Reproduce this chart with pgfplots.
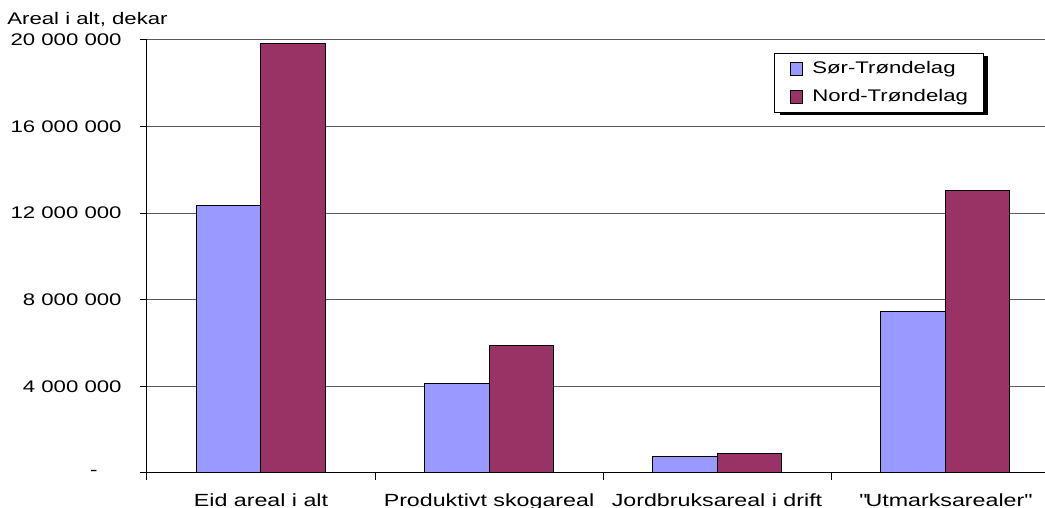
\documentclass[border=0pt]{standalone}
\usepackage{fontspec}
\setmainfont{Liberation Sans}[FakeStretch=1.32]
\usepackage{pgfplots}
\pgfplotsset{compat=1.18}
\usetikzlibrary{shadows}

\definecolor{sor}{HTML}{9999FF}
\definecolor{nord}{HTML}{993366}

\begin{document}
\begin{tikzpicture}[x=0.5pt, y=0.5pt, font=\fontsize{8.4pt}{10pt}\selectfont]
\begin{scope}
\clip (-147,-35) rectangle (898,473);
\begin{axis}[
    at={(0,0)}, anchor=south west,
    scale only axis,
    width=456pt, height=216.5pt,
    ybar,
    bar width=0.285,
    xmin=-0.5, xmax=3.5,
    ymin=0, ymax=20000000,
    axis lines*=left,
    axis line style={black, line width=0.5pt},
    tick align=outside,
    major tick length=3.5pt,
    tick style={black, line width=0.5pt},
    xtick={-0.5,0.5,1.5,2.5,3.5},
    x tick label as interval,
    xticklabels={Eid areal i alt, Produktivt skogareal, Jordbruksareal i drift, \textquotedbl Utmarksarealer\textquotedbl},
    xticklabel style={anchor=base, inner sep=0pt, yshift=-13.5pt,
        font=\fontsize{8.8pt}{10pt}\selectfont},
    ytick={0,4000000,8000000,12000000,16000000,20000000},
    yticklabels={\mbox{-\kern 12pt}, 4 000 000, 8 000 000, 12 000 000, 16 000 000, 20 000 000},
    scaled y ticks=false,
    yticklabel style={anchor=east, inner sep=0pt, xshift=-9pt},
    ymajorgrids,
    major grid style={black!65, line width=0.5pt},
    ylabel={Areal i alt, dekar},
    every axis y label/.style={at={(rel axis cs:0,1)}, anchor=base west,
        xshift=-70pt, yshift=7.5pt, inner sep=0pt},
    legend style={at={(rel axis cs:0.6875,0.97)}, anchor=north west,
        draw=black, line width=0.5pt, fill=white,
        drop shadow={shadow xshift=2.5pt, shadow yshift=-1.5pt, fill=black, opacity=1},
        inner xsep=7.5pt, inner ysep=2.8pt, row sep=4.5pt, column sep=4.5pt,
        cells={anchor=west},
        nodes={inner xsep=0pt, inner ysep=1pt}},
    legend image code/.code={%
        \begin{scope}[#1, draw=black]
        \pgfsetlinewidth{0.5pt}%
        \pgfpathrectangle{\pgfpoint{0pt}{-3.2pt}}{\pgfpoint{6.4pt}{6.4pt}}%
        \pgfusepath{fill,stroke}%
        \end{scope}},
]
\addplot[fill=sor, draw=black, line width=0.5pt, bar shift=-0.1425]
    coordinates {(0,12370000) (1,4140000) (2,785000) (3,7440000)};
\addplot[fill=nord, draw=black, line width=0.5pt, bar shift=0.1425]
    coordinates {(0,19820000) (1,5870000) (2,910000) (3,13070000)};
\legend{Sør-Trøndelag, Nord-Trøndelag}
\end{axis}
\end{scope}
\pgfresetboundingbox
\useasboundingbox (-147,-35) rectangle (898,473);
\end{tikzpicture}
\end{document}
